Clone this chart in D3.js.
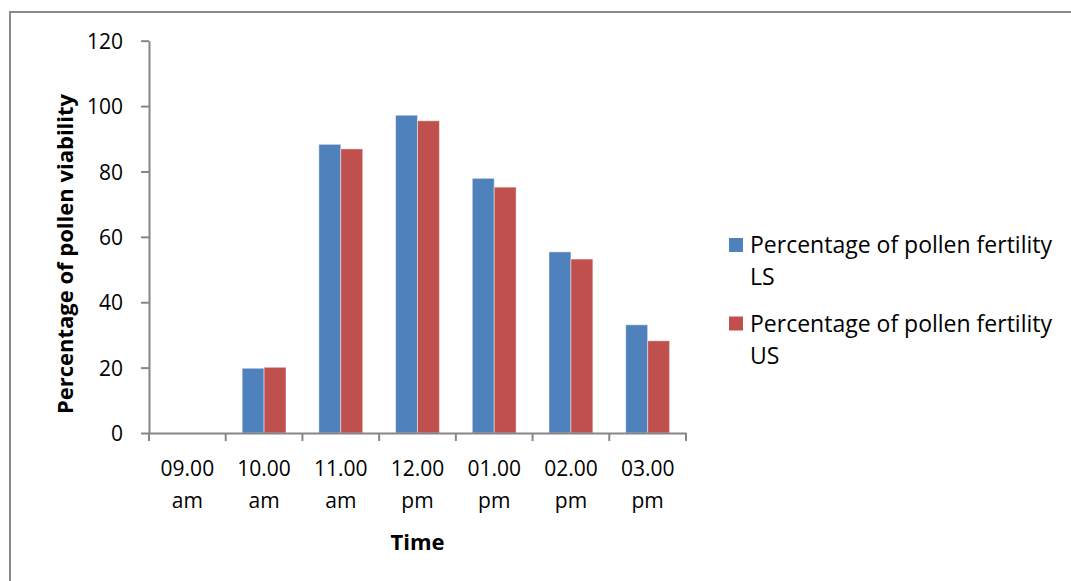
<!DOCTYPE html>
<html>
<head>
<meta charset="utf-8">
<script src="https://cdn.jsdelivr.net/npm/d3@7"></script>
<style>
  body { margin: 0; background: #fff; }
  svg { display: block; }
  text { font-family: "Open Sans", Lato, sans-serif; fill: #000; }
</style>
</head>
<body>
<svg id="chart" width="1071" height="581"></svg>
<script>
// Time of day (two-line labels: clock time / am-pm)
const categories = ["09.00 am", "10.00 am", "11.00 am", "12.00 pm", "01.00 pm", "02.00 pm", "03.00 pm"];
// Pollen fertility (%) for each series
const fertilityLS = [0, 19.8, 88.3, 97.2, 77.9, 55.4, 33.1];
const fertilityUS = [0, 20.1, 86.9, 95.5, 75.2, 53.2, 28.2];
const seriesKeys = ["LS", "US"];
const seriesLabels = [["Percentage of pollen fertility", "LS"], ["Percentage of pollen fertility", "US"]];
const seriesColors = ["#4F81BD", "#C0504D"];
const yTicks = [0, 20, 40, 60, 80, 100, 120];

const svg = d3.select("#chart");
const plot = { left: 149, right: 686, top: 40.7, bottom: 433 };
const axisColor = "#868686";

// outer frame (left and top edges fall inside the page)
svg.append("path")
  .attr("d", "M10,581 V12 H1071")
  .attr("fill", "none").attr("stroke", "#8a8a8a").attr("stroke-width", 2);

const x = d3.scaleBand().domain(categories).range([plot.left, plot.right]).paddingInner(0).paddingOuter(0);
const xs = d3.scaleBand().domain(seriesKeys).range([0, x.bandwidth()]).paddingInner(0).paddingOuter(0.75);
const y = d3.scaleLinear().domain([0, 120]).range([plot.bottom, plot.top]);

const rows = categories.map((c, i) => ({ cat: c, LS: fertilityLS[i], US: fertilityUS[i] }));

// bars
const groups = svg.append("g").selectAll("g").data(rows).join("g")
  .attr("transform", d => `translate(${x(d.cat)},0)`);
groups.selectAll("rect")
  .data(d => seriesKeys.map((k, j) => ({ key: k, value: d[k], color: seriesColors[j] })))
  .join("rect")
  .attr("x", d => xs(d.key))
  .attr("width", xs.bandwidth())
  .attr("y", d => y(d.value))
  .attr("height", d => y(0) - y(d.value))
  .attr("fill", d => d.color)
  .attr("stroke", "rgba(255,255,255,0.45)")
  .attr("stroke-width", d => d.value > 0 ? 1 : 0);

// y axis
const yAxis = svg.append("g")
  .attr("transform", `translate(${plot.left},0)`)
  .call(d3.axisLeft(y).tickValues(yTicks).tickSize(8).tickPadding(18).tickSizeOuter(0));
yAxis.select(".domain").attr("stroke", axisColor).attr("stroke-width", 2);
yAxis.selectAll(".tick line").attr("stroke", axisColor).attr("stroke-width", 2);
yAxis.selectAll(".tick text").style("font-size", "21px").attr("dy", "0.36em");

// x axis: baseline, boundary ticks and two-line labels
const xAxis = svg.append("g")
  .attr("transform", `translate(0,${plot.bottom})`)
  .call(d3.axisBottom(x).tickSize(0).tickPadding(0).tickSizeOuter(0));
xAxis.select(".domain").attr("stroke", axisColor).attr("stroke-width", 2);
xAxis.selectAll(".tick text").each(function (d) {
  const parts = d.split(" ");
  const t = d3.select(this).text(null).style("font-size", "21px").attr("y", 0).attr("dy", null);
  t.append("tspan").attr("x", 0).attr("y", 43).text(parts[0]);
  t.append("tspan").attr("x", 0).attr("y", 75).text(parts[1]);
});
const bounds = categories.map(c => x(c)).concat([x(categories[categories.length - 1]) + x.bandwidth()]);
xAxis.selectAll(".bound").data(bounds).join("line")
  .attr("class", "bound")
  .attr("x1", d => d).attr("x2", d => d)
  .attr("y1", 0).attr("y2", 8)
  .attr("stroke", axisColor).attr("stroke-width", 2);

// axis titles
svg.append("text")
  .attr("transform", "translate(73,254) rotate(-90)")
  .attr("text-anchor", "middle")
  .style("font-size", "22px").style("font-weight", "bold")
  .text("Percentage of pollen viability");
svg.append("text")
  .attr("x", (plot.left + plot.right) / 2).attr("y", 550)
  .attr("text-anchor", "middle")
  .style("font-size", "22px").style("font-weight", "bold")
  .text("Time");

// legend
const legend = svg.append("g").attr("transform", "translate(729,238)");
const entries = legend.selectAll("g").data(seriesLabels).join("g")
  .attr("transform", (d, i) => `translate(0,${i * 78.5})`);
entries.append("rect")
  .attr("width", 14).attr("height", 14)
  .attr("fill", (d, i) => seriesColors[i]);
entries.append("text")
  .style("font-size", "23px")
  .selectAll("tspan").data(d => d).join("tspan")
  .attr("x", 21).attr("y", (d, i) => 15 + i * 32)
  .text(d => d);
</script>
</body>
</html>
